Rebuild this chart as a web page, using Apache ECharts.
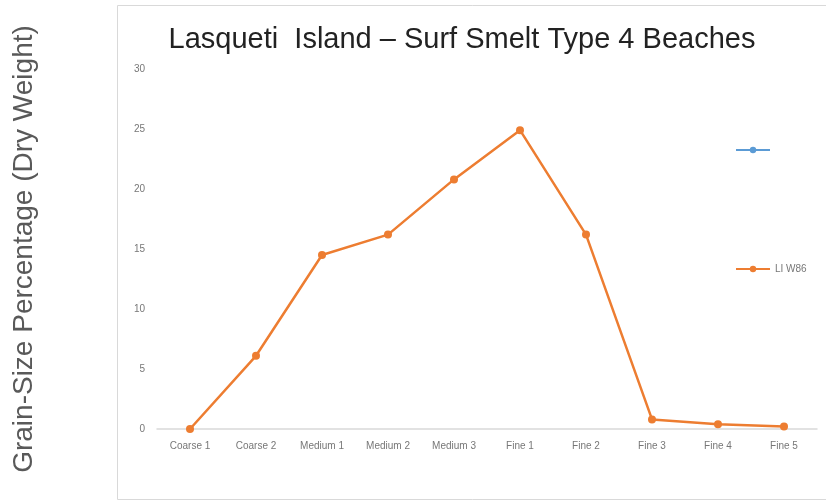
<!DOCTYPE html>
<html>
<head>
<meta charset="utf-8">
<script src="https://cdn.jsdelivr.net/npm/echarts@6/dist/echarts.min.js"></script>
<style>
    html, body { margin: 0; padding: 0; background: #fff; }
    #chart { width: 826px; height: 503px; }
</style>
</head>
<body>
<div id="chart"></div>
<script>
    // 粒度类别
    const categories = ['Coarse 1', 'Coarse 2', 'Medium 1', 'Medium 2', 'Medium 3',
        'Fine 1', 'Fine 2', 'Fine 3', 'Fine 4', 'Fine 5']
    const seriesNames = [' ', 'LI W86']
    const w86Values = [0, 6.1, 14.5, 16.2, 20.8, 24.9, 16.2, 0.8, 0.4, 0.2]
    const yTicks = { min: 0, max: 30, interval: 5 }

    const chart = echarts.init(document.getElementById('chart'))
    const option = {
        animation: false,
        title: {
            text: 'Lasqueti  Island – Surf Smelt Type 4 Beaches',
            left: 457,
            textAlign: 'center',
            top: 20,
            textStyle: {
                fontFamily: 'Liberation Sans, sans-serif',
                fontSize: 29,
                fontWeight: 'normal',
                color: '#222'
            }
        },
        graphic: [{
            type: 'rect',
            shape: { x: 117.5, y: 5.5, width: 720, height: 494 },
            style: { fill: 'none', stroke: '#d9d9d9', lineWidth: 1 },
            silent: true
        }],
        legend: {
            orient: 'vertical',
            left: 730,
            top: 140,
            itemGap: 109,
            itemWidth: 34,
            itemHeight: 8,
            data: seriesNames,
            textStyle: { color: '#777', fontSize: 10 }
        },
        grid: { left: 157, right: 9, top: 69, bottom: 74, containLabel: false },
        xAxis: {
            type: 'category',
            data: categories,
            axisLine: { lineStyle: { color: '#d9d9d9', width: 1.5 } },
            axisTick: { show: false },
            axisLabel: { color: '#777', fontSize: 10, margin: 12, interval: 0 }
        },
        yAxis: {
            type: 'value',
            min: yTicks.min,
            max: yTicks.max,
            interval: yTicks.interval,
            name: 'Grain-Size Percentage (Dry Weight)',
            nameLocation: 'middle',
            nameGap: 119,
            nameTextStyle: { fontFamily: 'Liberation Sans, sans-serif', fontSize: 28, color: '#595959' },
            splitLine: { show: false },
            axisLine: { show: false },
            axisLabel: { color: '#777', fontSize: 10, margin: 12 }
        },
        series: [{
            name: seriesNames[0],
            type: 'line',
            data: [],
            symbol: 'circle',
            symbolSize: 8,
            itemStyle: { color: '#5B9BD5' },
            lineStyle: { color: '#5B9BD5', width: 2.5 }
        }, {
            name: seriesNames[1],
            type: 'line',
            data: w86Values,
            symbol: 'circle',
            symbolSize: 8,
            itemStyle: { color: '#ED7D31' },
            lineStyle: { color: '#ED7D31', width: 2.5 }
        }]
    }
    chart.setOption(option)
</script>
</body>
</html>
